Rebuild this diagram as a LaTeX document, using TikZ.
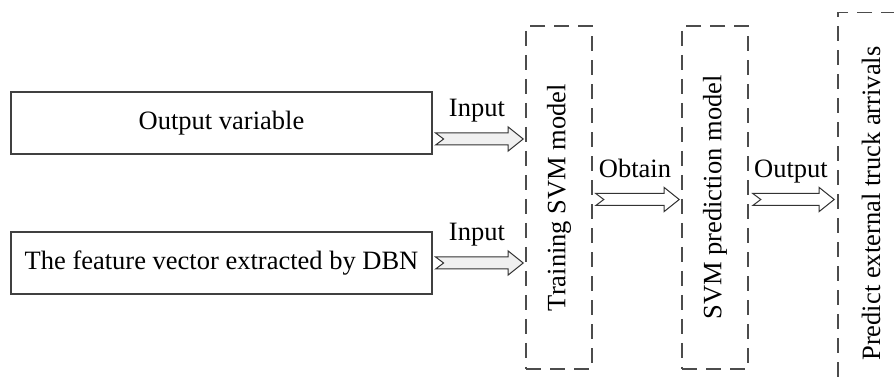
\documentclass[tikz,border=0pt]{standalone}
\usepackage{fontspec}
\setmainfont{Liberation Serif}
\usetikzlibrary{calc}

\begin{document}
\begin{tikzpicture}[x=1pt, y=1pt, font=\fontsize{26.5}{30}\selectfont,
    box/.style = {draw=black!75, line width=1.2pt, minimum width=421pt, minimum height=62pt, inner sep=0pt},
    stage/.style = {draw=black!70, line width=1.6pt, dash pattern=on 15pt off 9pt, minimum width=66pt, minimum height=343pt, inner sep=0pt},
    lbl/.style = {anchor=base, inner sep=0pt, yshift=16pt, xshift=5pt},
    fatarrow/.style = {draw=black!80, line width=1pt, line join=miter, to path={let \p1=(\tikztostart), \p2=(\tikztotarget) in
        (\x1,\y1+6pt) -- (\x2-15pt,\y1+6pt) \tikztonodes -- (\x2-15pt,\y1+12pt) -- (\x2,\y1) -- (\x2-15pt,\y1-12pt) -- (\x2-15pt,\y1-6pt) -- (\x1,\y1-6pt) -- (\x1+8pt,\y1) -- cycle}}]
    \clip (0,0) rectangle (894,380);
    \node[box] (out) at (221.5,257) {Output variable};
    \node[box, node distance=140pt] (feat) [below of=out] {The feature vector extracted by DBN};
    \node[stage] (train) at (559,182.5) {\rotatebox{90}{Training SVM model}};
    \node[stage, node distance=156pt] (svm) [right of=train] {\rotatebox{90}{SVM prediction model}};
    \node[stage, node distance=156pt, minimum height=382pt, yshift=-6pt] (pred) [right of=svm] {\raisebox{0pt}{\rotatebox{90}{Predict external truck arrivals}}};
    \draw[fatarrow, fill=gray!12] ([xshift=3pt, yshift=-16pt]out.east) to node[lbl] {Input} ([xshift=-2pt]train.west);
    \draw[fatarrow, fill=gray!12] ([xshift=3pt]feat.east) to node[lbl] {Input} ([xshift=-2pt]train.west);
    \draw[fatarrow, fill=white] ([xshift=3pt, yshift=-2pt]train.east) to node[lbl] {Obtain} ([xshift=-2pt]svm.west);
    \draw[fatarrow, fill=white] ([xshift=4pt, yshift=-2pt]svm.east) to node[lbl] {Output} ([xshift=-3pt]pred.west);
\end{tikzpicture}
\end{document}
